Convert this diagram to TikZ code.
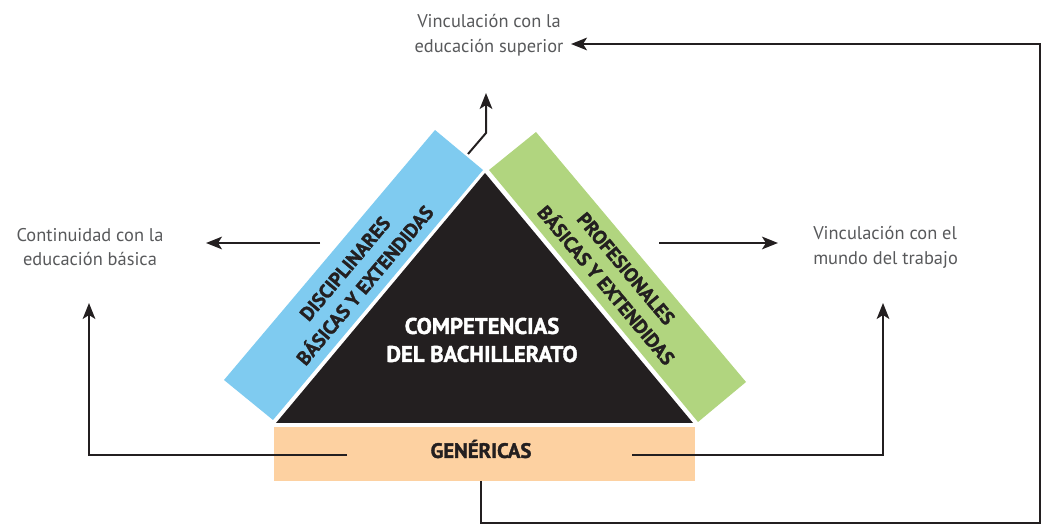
\documentclass[tikz,border=0pt]{standalone}
\usepackage{fontspec}
\setmainfont{PT Sans}
\newfontfamily\heavy{PT Sans}[FakeBold=1.6]
\usetikzlibrary{arrows.meta}
\definecolor{tri}{HTML}{231F20}
\definecolor{blueb}{HTML}{7FCBF0}
\definecolor{greenb}{HTML}{B1D57F}
\definecolor{peach}{HTML}{FDD1A1}
\definecolor{txt}{HTML}{58595B}
\begin{document}
\begin{tikzpicture}[x=0.75pt,y=-0.75pt,
  conn/.style={line width=1.5pt, draw=tri},
  arr/.style={conn, -{Stealth[length=12pt,width=9.5pt,inset=3pt]}},
  lbl/.style={text=txt, font=\fontsize{13.8}{18.5}\selectfont, align=center, inner sep=0pt},
  bandtxt/.style={text=tri, font=\heavy\bfseries\fontsize{14.6}{19.5}\selectfont, align=center, inner sep=0pt},
  gentxt/.style={text=tri, font=\heavy\bfseries\fontsize{15.6}{19}\selectfont, align=center, inner sep=0pt},
  boldw/.style={text=white, font=\heavy\bfseries\fontsize{17}{21}\selectfont, align=center, inner sep=0pt}]
\useasboundingbox (0,0) rectangle (1049,530);
% shapes
\fill[blueb] (435,130) -- (483,170) -- (273,420) -- (224,380) -- cycle;
\fill[greenb] (489,170) -- (536,132) -- (746,382) -- (698,422) -- cycle;
\fill[tri] (276,423) -- (485,173) -- (693,423) -- cycle;
\fill[peach] (274,427) rectangle (695,481);
% texts
\node[lbl] (sup) at (489,35) {Vinculación con la\\educación superior};
\node[lbl] (bas) at (90,247) {Continuidad con la\\educación básica};
\node[lbl, align=left, anchor=west] (trab) at (813,247) {Vinculación con el\\mundo del trabajo};
\node[boldw] (comp) at (482,340) {COMPETENCIAS\\DEL BACHILLERATO};
\node[gentxt] (gen) at (481,449) {GENÉRICAS};
\node[bandtxt, rotate=50] (disc) at (355,277) {DISCIPLINARES\\BÁSICAS Y EXTENDIDAS};
\node[bandtxt, rotate=-50] (prof) at (616,277) {PROFESIONALES\\BÁSICAS Y EXTENDIDAS};
% connector points
\coordinate (gl) at (347,455);
\coordinate (gr) at (632,455);
\coordinate (gb) at (481,481);
\coordinate (tl) at (89,303);
\coordinate (tr) at (883,303);
\coordinate (b1) at (1040,523);
\coordinate (b2) at (1040,44);
\coordinate (ts) at (571,44);
\coordinate (u0) at (468,154);
\coordinate (u1) at (486,133);
\coordinate (ut) at (486,93);
\coordinate (l0) at (320,243);
\coordinate (lt) at (206,243);
\coordinate (r0) at (659,243);
\coordinate (rt) at (778,243);
% connectors
\draw[arr] (gl) -| (tl);
\draw[arr] (gr) -| (tr);
\draw[arr] (gb) |- (b1) -- (b2) -- (ts);
\draw[arr] (u0) -- (u1) -- (ut);
\draw[arr] (l0) -- (lt);
\draw[arr] (r0) -- (rt);
\end{tikzpicture}
\end{document}
